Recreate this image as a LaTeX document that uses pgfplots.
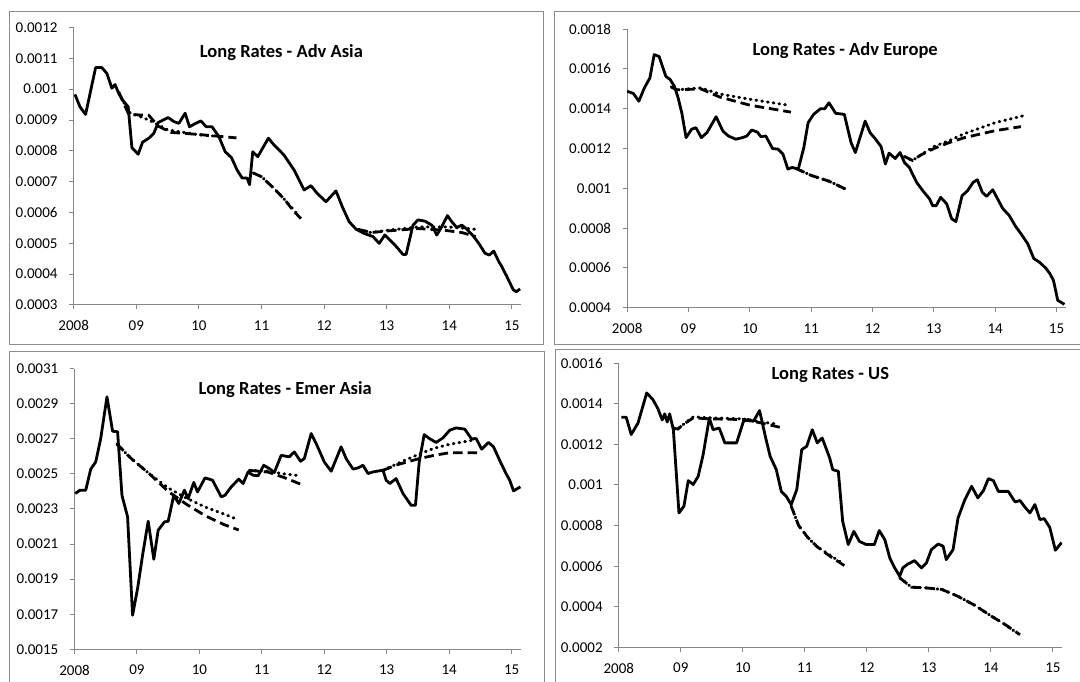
\documentclass[border=0pt]{standalone}
\usepackage{pgfplots}
\pgfplotsset{compat=1.18}
\usepackage{fontspec}
\setmainfont{Carlito}
\definecolor{axgray}{RGB}{134,134,134}
\definecolor{framegray}{RGB}{140,140,140}
\newcommand{\tickfont}{\fontsize{15}{18}\selectfont}
\pgfplotsset{
  panel/.style={
    scale only axis,
    anchor=south west,
    font=\tickfont,
    axis x line*=bottom, axis y line*=left,
    axis line style={draw=axgray, line width=1pt},
    tick style={draw=axgray, line width=1pt},
    tick align=outside,
    major tick length=4.5pt,
    xmin=2008, xmax=2015.15,
    xtick={2008,2009,2010,2011,2012,2013,2014,2015},
    xticklabels={{\tickfont 2008},{\tickfont 09},{\tickfont 10},{\tickfont 11},{\tickfont 12},{\tickfont 13},{\tickfont 14},{\tickfont 15}},
    scaled y ticks=false, scaled x ticks=false,
    xticklabel style={font=\tickfont, text=black, inner sep=0pt, anchor=north, yshift=-11pt},
    yticklabel style={font=\tickfont, text=black, inner sep=0pt, anchor=east, xshift=-11.5pt},
    title style={font=\fontsize{18.5}{22}\selectfont\bfseries, anchor=center, yshift=-7.5pt},
  },
  act/.style={black, line width=2.8pt, line join=round, mark=none},
  fdash/.style={black, line width=2.8pt, dash pattern=on 9.5pt off 5pt, mark=none},
  fdot/.style={black, line width=3pt, line cap=round, dash pattern=on 0.8pt off 5pt, mark=none},
}
\begin{document}
\fontsize{15}{18}\selectfont
\begin{tikzpicture}
\useasboundingbox (0pt,0pt) rectangle (1080pt,681pt);
\fill[white] (0pt,0pt) rectangle (1080pt,681pt);
% frames
\draw[framegray, line width=1pt] (9pt,669pt) rectangle (543pt,336pt);
\draw[framegray, line width=1pt] (1081pt,669pt) -- (554pt,669pt) -- (554pt,336pt) -- (1081pt,336pt);
\draw[framegray, line width=1pt] (9pt,-1pt) -- (9pt,329pt) -- (544pt,329pt) -- (544pt,-1pt);
\draw[framegray, line width=1pt] (555pt,-1pt) -- (555pt,331pt) -- (1081pt,331pt);

% ---------------- Panel 1: Adv Asia
\begin{axis}[panel, at={(73.7pt,376pt)}, width=447.6pt, height=277.5pt,
  ymin=0.0003, ymax=0.0012,
  ytick={0.0003,0.0004,0.0005,0.0006,0.0007,0.0008,0.0009,0.001,0.0011,0.0012},
  yticklabels={{\tickfont 0.0003},{\tickfont 0.0004},{\tickfont 0.0005},{\tickfont 0.0006},{\tickfont 0.0007},{\tickfont 0.0008},{\tickfont 0.0009},{\tickfont 0.001},{\tickfont 0.0011},{\tickfont 0.0012}},
  title={Long Rates - Adv Asia}, title style={at={(axis description cs:0.464,0.9135)}}]
\addplot[act] coordinates {(2008.02,0.000983)(2008.10,0.000943)(2008.19,0.000918)(2008.35,0.00107)(2008.45,0.00107)(2008.53,0.001051)(2008.61,0.001003)(2008.66,0.001015)(2008.72,0.000986)(2008.78,0.000965)(2008.87,0.000943)(2008.93,0.00081)(2009.03,0.000789)(2009.10,0.000828)(2009.20,0.000841)(2009.28,0.000857)(2009.35,0.000892)(2009.51,0.000908)(2009.60,0.000895)(2009.68,0.000889)(2009.78,0.000922)(2009.85,0.000878)(2009.92,0.000886)(2010.03,0.000897)(2010.12,0.000878)(2010.21,0.000878)(2010.32,0.000846)(2010.42,0.000797)(2010.52,0.000778)(2010.61,0.000738)(2010.69,0.000712)(2010.77,0.000712)(2010.81,0.00069)(2010.86,0.000797)(2010.94,0.000781)(2011.11,0.000841)(2011.20,0.000819)(2011.28,0.000803)(2011.36,0.000786)(2011.52,0.000738)(2011.68,0.000673)(2011.79,0.000687)(2011.89,0.000662)(2012.03,0.000635)(2012.19,0.00067)(2012.29,0.000619)(2012.40,0.00057)(2012.51,0.000546)(2012.64,0.000532)(2012.78,0.000522)(2012.88,0.0005)(2012.97,0.000527)(2013.13,0.000495)(2013.26,0.000464)(2013.31,0.000464)(2013.42,0.000559)(2013.50,0.000576)(2013.61,0.000572)(2013.72,0.000559)(2013.80,0.000527)(2013.88,0.000554)(2013.97,0.00059)(2014.04,0.00057)(2014.12,0.000551)(2014.20,0.000559)(2014.28,0.000546)(2014.39,0.000522)(2014.47,0.0005)(2014.57,0.000468)(2014.64,0.000462)(2014.71,0.000475)(2014.79,0.000441)(2014.84,0.000424)(2014.92,0.000392)(2015.02,0.00035)(2015.07,0.000343)(2015.13,0.000352)};
\addplot[fdot] coordinates {(2008.72,0.00099)(2008.88,0.000925)(2009.2,0.0009)(2009.5,0.000868)(2010.0,0.000852)(2010.35,0.000846)};
\addplot[fdash] coordinates {(2008.72,0.00099)(2008.88,0.000918)(2009.2,0.000915)(2009.35,0.00088)(2009.55,0.00086)(2010.0,0.000853)(2010.6,0.000842)};
\addplot[fdot] coordinates {(2010.87,0.000728)(2011.0,0.000716)(2011.2,0.000678)(2011.37,0.000642)(2011.55,0.000600)};
\addplot[fdash] coordinates {(2010.87,0.000728)(2011.0,0.000716)(2011.2,0.000678)(2011.37,0.000642)(2011.5,0.000608)(2011.63,0.00058)};
\addplot[fdot] coordinates {(2012.55,0.000545)(2012.75,0.000535)(2013.0,0.000542)(2013.5,0.000553)(2014.0,0.000553)(2014.45,0.000545)};
\addplot[fdash] coordinates {(2012.55,0.000545)(2012.75,0.000535)(2013.0,0.00054)(2013.5,0.000548)(2013.9,0.000543)(2014.2,0.000535)(2014.42,0.000522)};
\end{axis}

% ---------------- Panel 2: Adv Europe
\begin{axis}[panel, at={(627.2pt,373.3pt)}, width=438.5pt, height=278.5pt,
  ymin=0.0004, ymax=0.0018,
  ytick={0.0004,0.0006,0.0008,0.001,0.0012,0.0014,0.0016,0.0018},
  yticklabels={{\tickfont 0.0004},{\tickfont 0.0006},{\tickfont 0.0008},{\tickfont 0.001},{\tickfont 0.0012},{\tickfont 0.0014},{\tickfont 0.0016},{\tickfont 0.0018}},
  title={Long Rates - Adv Europe}, title style={at={(axis description cs:0.497,0.927)}}]
\addplot[act] coordinates {(2008.00,0.001488)(2008.10,0.001477)(2008.19,0.001438)(2008.28,0.001505)(2008.37,0.001555)(2008.44,0.001672)(2008.52,0.001663)(2008.63,0.001563)(2008.70,0.001547)(2008.77,0.001513)(2008.83,0.001455)(2008.89,0.00138)(2008.96,0.001255)(2009.05,0.001297)(2009.12,0.001305)(2009.21,0.001255)(2009.30,0.00128)(2009.45,0.00136)(2009.56,0.001288)(2009.65,0.001263)(2009.77,0.001247)(2009.88,0.001255)(2009.95,0.001263)(2010.03,0.001293)(2010.12,0.001283)(2010.18,0.00126)(2010.26,0.001263)(2010.37,0.0012)(2010.46,0.001197)(2010.54,0.001172)(2010.62,0.001097)(2010.69,0.001105)(2010.79,0.001097)(2010.88,0.001205)(2010.95,0.00133)(2011.04,0.001372)(2011.15,0.0014)(2011.22,0.0014)(2011.29,0.00143)(2011.40,0.001377)(2011.54,0.001372)(2011.65,0.00123)(2011.72,0.00118)(2011.88,0.001338)(2011.96,0.00128)(2012.05,0.001247)(2012.14,0.00121)(2012.21,0.001122)(2012.27,0.001177)(2012.37,0.00115)(2012.45,0.00118)(2012.52,0.00113)(2012.60,0.001105)(2012.72,0.00103)(2012.82,0.000988)(2012.93,0.000947)(2012.98,0.000913)(2013.04,0.000913)(2013.11,0.000955)(2013.21,0.000922)(2013.29,0.000847)(2013.36,0.000833)(2013.46,0.000963)(2013.55,0.000988)(2013.64,0.00103)(2013.71,0.001043)(2013.79,0.00098)(2013.86,0.00096)(2013.96,0.000993)(2014.04,0.000947)(2014.12,0.0009)(2014.23,0.000863)(2014.33,0.00081)(2014.42,0.000772)(2014.53,0.000722)(2014.63,0.000647)(2014.73,0.000627)(2014.83,0.000597)(2014.89,0.000572)(2014.95,0.000538)(2015.02,0.000437)(2015.07,0.000428)(2015.13,0.000417)};
\addplot[fdot] coordinates {(2008.72,0.00151)(2008.8,0.001495)(2009.2,0.001505)(2009.5,0.001475)(2010.0,0.001448)(2010.58,0.00142)};
\addplot[fdash] coordinates {(2008.72,0.00151)(2008.8,0.001495)(2009.2,0.0015)(2009.5,0.00146)(2010.0,0.001418)(2010.35,0.0014)(2010.67,0.001383)};
\addplot[fdot] coordinates {(2010.75,0.0011)(2011.0,0.001065)(2011.3,0.001035)(2011.55,0.000998)};
\addplot[fdash] coordinates {(2010.75,0.0011)(2011.0,0.001065)(2011.3,0.001035)(2011.6,0.00099)};
\addplot[fdot] coordinates {(2012.52,0.00116)(2012.65,0.00114)(2012.8,0.00117)(2013.0,0.00121)(2013.25,0.00124)(2013.5,0.001275)(2014.0,0.00133)(2014.46,0.001365)};
\addplot[fdash] coordinates {(2012.52,0.00116)(2012.65,0.00114)(2012.8,0.00117)(2013.0,0.0012)(2013.25,0.00123)(2013.5,0.001255)(2014.0,0.00129)(2014.42,0.00131)};
\end{axis}

% ---------------- Panel 3: Emer Asia
\begin{axis}[panel, at={(74.5pt,31.7pt)}, width=446.5pt, height=280.7pt,
  ymin=0.0015, ymax=0.0031,
  ytick={0.0015,0.0017,0.0019,0.0021,0.0023,0.0025,0.0027,0.0029,0.0031},
  yticklabels={{\tickfont 0.0015},{\tickfont 0.0017},{\tickfont 0.0019},{\tickfont 0.0021},{\tickfont 0.0023},{\tickfont 0.0025},{\tickfont 0.0027},{\tickfont 0.0029},{\tickfont 0.0031}},
  title={Long Rates - Emer Asia}, title style={at={(axis description cs:0.472,0.931)}}]
\addplot[act] coordinates {(2008.01,0.002388)(2008.09,0.002407)(2008.18,0.002407)(2008.26,0.002527)(2008.34,0.002568)(2008.42,0.002702)(2008.52,0.002939)(2008.61,0.002743)(2008.69,0.00274)(2008.76,0.002378)(2008.85,0.002255)(2008.93,0.001694)(2009.01,0.001846)(2009.09,0.002036)(2009.18,0.00223)(2009.27,0.002013)(2009.34,0.002179)(2009.44,0.002226)(2009.50,0.00223)(2009.59,0.002378)(2009.67,0.002331)(2009.76,0.002407)(2009.82,0.002359)(2009.91,0.002451)(2009.97,0.002397)(2010.09,0.002477)(2010.21,0.002464)(2010.35,0.002369)(2010.41,0.002378)(2010.51,0.002426)(2010.63,0.00247)(2010.70,0.002445)(2010.78,0.002511)(2010.86,0.002492)(2010.94,0.002489)(2011.03,0.002549)(2011.12,0.00253)(2011.20,0.002508)(2011.31,0.002606)(2011.39,0.002600)(2011.44,0.002597)(2011.52,0.002625)(2011.62,0.002572)(2011.68,0.002587)(2011.79,0.00273)(2011.87,0.002673)(2012.00,0.002568)(2012.11,0.002515)(2012.27,0.002654)(2012.35,0.002587)(2012.46,0.002527)(2012.54,0.002534)(2012.62,0.002549)(2012.70,0.002502)(2012.78,0.002511)(2012.94,0.002521)(2012.99,0.002464)(2013.05,0.002445)(2013.15,0.002473)(2013.26,0.002388)(2013.39,0.002321)(2013.46,0.002321)(2013.52,0.002568)(2013.60,0.002724)(2013.68,0.002702)(2013.79,0.002679)(2013.90,0.002705)(2014.01,0.002749)(2014.11,0.002762)(2014.25,0.002755)(2014.36,0.002698)(2014.43,0.002702)(2014.52,0.002641)(2014.63,0.002679)(2014.71,0.002654)(2014.82,0.002568)(2014.91,0.002502)(2014.97,0.002463)(2015.03,0.002403)(2015.14,0.002426)};
\addplot[fdot] coordinates {(2008.68,0.00267)(2008.9,0.00259)(2009.2,0.0025)(2009.5,0.00242)(2009.8,0.00236)(2010.1,0.00231)(2010.4,0.00227)(2010.61,0.00224)};
\addplot[fdash] coordinates {(2008.68,0.00267)(2008.9,0.00259)(2009.2,0.0025)(2009.5,0.0024)(2009.8,0.002325)(2010.1,0.00226)(2010.4,0.00221)(2010.63,0.00218)};
\addplot[fdot] coordinates {(2010.8,0.00252)(2011.1,0.002515)(2011.35,0.0025)(2011.6,0.00249)};
\addplot[fdash] coordinates {(2010.8,0.00252)(2011.1,0.00251)(2011.35,0.00248)(2011.63,0.00244)};
\addplot[fdot] coordinates {(2012.94,0.00252)(2013.15,0.002555)(2013.5,0.00261)(2013.75,0.002645)(2014.0,0.002668)(2014.35,0.00269)};
\addplot[fdash] coordinates {(2012.94,0.00252)(2013.15,0.00255)(2013.5,0.002585)(2013.75,0.002605)(2014.0,0.00262)(2014.45,0.00262)};
\end{axis}

% ---------------- Panel 4: US
\begin{axis}[panel, at={(618.8pt,33.7pt)}, width=443.4pt, height=284.2pt,
  ymin=0.0002, ymax=0.0016,
  ytick={0.0002,0.0004,0.0006,0.0008,0.001,0.0012,0.0014,0.0016},
  yticklabels={{\tickfont 0.0002},{\tickfont 0.0004},{\tickfont 0.0006},{\tickfont 0.0008},{\tickfont 0.001},{\tickfont 0.0012},{\tickfont 0.0014},{\tickfont 0.0016}},
  title={Long Rates - US}, title style={at={(axis description cs:0.477,0.965)}}]
\addplot[act] coordinates {(2008.04,0.001333)(2008.12,0.001333)(2008.20,0.001248)(2008.31,0.001305)(2008.45,0.001453)(2008.55,0.00142)(2008.63,0.001376)(2008.70,0.00132)(2008.74,0.00135)(2008.78,0.00131)(2008.82,0.00135)(2008.88,0.001272)(2008.97,0.000862)(2009.05,0.000895)(2009.12,0.001021)(2009.20,0.001002)(2009.28,0.001042)(2009.36,0.001149)(2009.46,0.00133)(2009.52,0.001272)(2009.62,0.00128)(2009.71,0.001207)(2009.90,0.001207)(2010.01,0.001313)(2010.09,0.001322)(2010.17,0.001313)(2010.27,0.001366)(2010.37,0.00123)(2010.44,0.001141)(2010.54,0.001075)(2010.62,0.000968)(2010.70,0.000944)(2010.78,0.000903)(2010.87,0.000977)(2010.95,0.001174)(2011.03,0.00119)(2011.12,0.001272)(2011.20,0.001207)(2011.28,0.001231)(2011.40,0.001133)(2011.45,0.001075)(2011.54,0.001067)(2011.61,0.000821)(2011.70,0.000706)(2011.79,0.000771)(2011.88,0.000722)(2011.99,0.000706)(2012.12,0.000706)(2012.20,0.000775)(2012.29,0.00073)(2012.37,0.00064)(2012.45,0.000591)(2012.53,0.00055)(2012.58,0.000591)(2012.66,0.00061)(2012.77,0.000627)(2012.88,0.000591)(2012.96,0.000615)(2013.04,0.000681)(2013.15,0.000709)(2013.23,0.000698)(2013.28,0.000632)(2013.39,0.000681)(2013.47,0.000837)(2013.58,0.000927)(2013.69,0.000993)(2013.79,0.000936)(2013.88,0.000972)(2013.96,0.001031)(2014.04,0.001021)(2014.12,0.000968)(2014.28,0.000968)(2014.39,0.000916)(2014.47,0.000923)(2014.55,0.00089)(2014.63,0.000862)(2014.71,0.000903)(2014.79,0.000829)(2014.86,0.000834)(2014.95,0.000790)(2015.04,0.000678)(2015.14,0.000716)};
\addplot[fdot] coordinates {(2008.88,0.00128)(2008.95,0.001275)(2009.05,0.0013)(2009.2,0.001335)(2009.5,0.00133)(2010.0,0.001325)(2010.3,0.00131)(2010.55,0.0013)};
\addplot[fdash] coordinates {(2008.88,0.00128)(2008.95,0.001275)(2009.05,0.0013)(2009.2,0.00133)(2009.5,0.001325)(2010.0,0.001322)(2010.3,0.001305)(2010.65,0.00128)};
\addplot[fdot] coordinates {(2010.78,0.000895)(2010.9,0.0008)(2011.05,0.00074)(2011.2,0.000695)(2011.4,0.000655)(2011.6,0.000615)};
\addplot[fdash] coordinates {(2010.78,0.000895)(2010.9,0.0008)(2011.05,0.00074)(2011.2,0.000695)(2011.4,0.00065)(2011.65,0.0006)};
\addplot[fdot] coordinates {(2012.53,0.000542)(2012.72,0.000496)(2012.94,0.000493)(2013.21,0.000485)(2013.47,0.000451)(2013.74,0.000407)(2014.01,0.000353)(2014.23,0.000312)(2014.4,0.000275)};
\addplot[fdash] coordinates {(2012.53,0.000542)(2012.72,0.000496)(2012.94,0.000493)(2013.21,0.000485)(2013.47,0.000451)(2013.74,0.000407)(2014.01,0.000353)(2014.23,0.000312)(2014.47,0.000262)};
\end{axis}
\end{tikzpicture}
\end{document}
